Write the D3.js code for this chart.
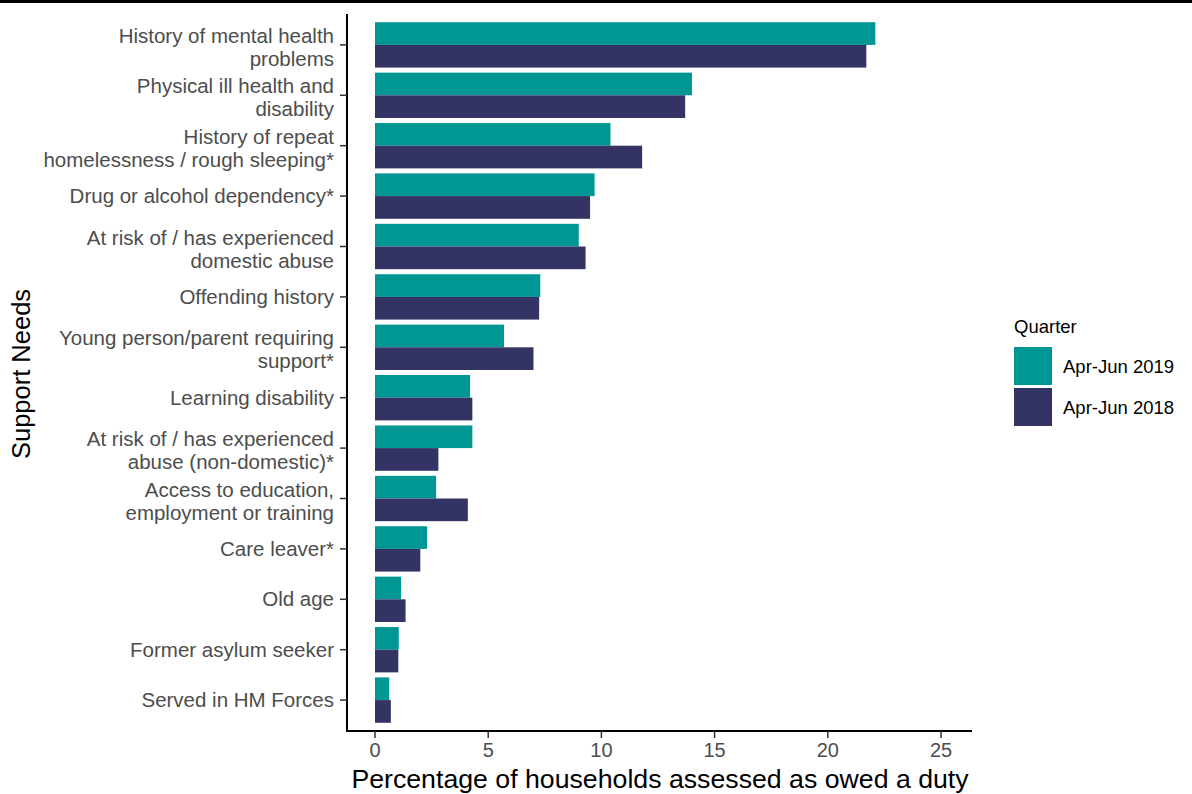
<!DOCTYPE html>
<html>
<head>
<meta charset="utf-8">
<script src="https://cdn.jsdelivr.net/npm/d3@7"></script>
<style>
  html, body { margin: 0; padding: 0; background: #fff; }
  svg { display: block; font-family: "Liberation Sans", Arial, sans-serif; }
</style>
</head>
<body>
<svg id="chart" width="1192" height="794"></svg>
<script>
const categories = [
  "History of mental health\nproblems",
  "Physical ill health and\ndisability",
  "History of repeat\nhomelessness / rough sleeping*",
  "Drug or alcohol dependency*",
  "At risk of / has experienced\ndomestic abuse",
  "Offending history",
  "Young person/parent requiring\nsupport*",
  "Learning disability",
  "At risk of / has experienced\nabuse (non-domestic)*",
  "Access to education,\nemployment or training",
  "Care leaver*",
  "Old age",
  "Former asylum seeker",
  "Served in HM Forces"
];
const seriesNames = ["Apr-Jun 2019", "Apr-Jun 2018"];
const values2019 = [22.1, 14.0, 10.4, 9.7, 9.0, 7.3, 5.7, 4.2, 4.3, 2.7, 2.3, 1.15, 1.05, 0.63];
const values2018 = [21.7, 13.7, 11.8, 9.5, 9.3, 7.25, 7.0, 4.3, 2.8, 4.1, 2.0, 1.35, 1.03, 0.7];
const xTicks = [0, 5, 10, 15, 20, 25];
const colors = ["#009694", "#333464"];
const xTitle = "Percentage of households assessed as owed a duty";
const yTitle = "Support Needs";
const legendTitle = "Quarter";

const svg = d3.select("#chart");

// top border line
svg.append("rect").attr("x", 0).attr("y", 0).attr("width", 1192).attr("height", 3).attr("fill", "#000");

const axisLeft = 347, axisRight = 972, axisTop = 14, axisBottom = 731;

const x = d3.scaleLinear().domain([0, 25]).range([375, 941]);
const y = d3.scaleBand().domain(categories).range([axisTop, axisBottom]).paddingInner(0.1).paddingOuter(0.163);
const sub = d3.scaleBand().domain(seriesNames).range([0, y.bandwidth()]);

const data = categories.map((c, i) => ({ cat: c, vals: [values2019[i], values2018[i]] }));

const g = svg.append("g");
const groups = g.selectAll("g.cat").data(data).join("g").attr("class", "cat")
  .attr("transform", d => `translate(0,${y(d.cat)})`);
groups.selectAll("rect").data(d => d.vals.map((v, k) => ({ v, k })))
  .join("rect")
  .attr("x", x(0))
  .attr("y", d => sub(seriesNames[d.k]))
  .attr("width", d => x(d.v) - x(0))
  .attr("height", sub.bandwidth())
  .attr("fill", d => colors[d.k]);

// Y axis
svg.append("line").attr("x1", axisLeft).attr("x2", axisLeft).attr("y1", axisTop).attr("y2", axisBottom + 1)
  .attr("stroke", "#000").attr("stroke-width", 2);
categories.forEach(c => {
  const cy = y(c) + y.bandwidth() / 2;
  svg.append("line").attr("x1", axisLeft - 7).attr("x2", axisLeft).attr("y1", cy).attr("y2", cy)
    .attr("stroke", "#333").attr("stroke-width", 1.5);
  const lines = c.split("\n");
  const t = svg.append("text").attr("text-anchor", "end").attr("fill", "#4d4d4d")
    .attr("font-size", 20.5);
  if (lines.length === 1) {
    t.append("tspan").attr("x", 334).attr("y", cy).attr("dy", "0.35em").text(lines[0]);
  } else {
    t.append("tspan").attr("x", 334).attr("y", cy - 9).attr("dy", "0.35em").text(lines[0]);
    t.append("tspan").attr("x", 334).attr("y", cy + 14).attr("dy", "0.35em").text(lines[1]);
  }
});

// X axis
svg.append("line").attr("x1", axisLeft - 1).attr("x2", axisRight).attr("y1", axisBottom).attr("y2", axisBottom)
  .attr("stroke", "#000").attr("stroke-width", 2);
xTicks.forEach(t => {
  svg.append("line").attr("x1", x(t)).attr("x2", x(t)).attr("y1", axisBottom).attr("y2", axisBottom + 7)
    .attr("stroke", "#333").attr("stroke-width", 1.5);
  svg.append("text").attr("x", x(t)).attr("y", axisBottom + 19).attr("dy", "0.35em")
    .attr("text-anchor", "middle").attr("fill", "#4d4d4d").attr("font-size", 20).text(t);
});

// axis titles
svg.append("text").attr("x", 660).attr("y", 779).attr("dy", "0.35em").attr("text-anchor", "middle")
  .attr("font-size", 26.7).attr("fill", "#000").text(xTitle);
svg.append("text").attr("transform", "translate(21,374) rotate(-90)").attr("dy", "0.35em")
  .attr("text-anchor", "middle").attr("font-size", 25.5).attr("fill", "#000").text(yTitle);

// legend
svg.append("text").attr("x", 1014).attr("y", 327).attr("dy", "0.35em").attr("font-size", 18.5)
  .attr("fill", "#000").text(legendTitle);
seriesNames.forEach((s, i) => {
  const ly = 347 + i * 41;
  svg.append("rect").attr("x", 1014).attr("y", ly).attr("width", 38).attr("height", 38).attr("fill", colors[i]);
  svg.append("text").attr("x", 1063).attr("y", ly + 19.5).attr("dy", "0.35em").attr("font-size", 18.5)
    .attr("fill", "#000").text(s);
});
</script>
</body>
</html>
